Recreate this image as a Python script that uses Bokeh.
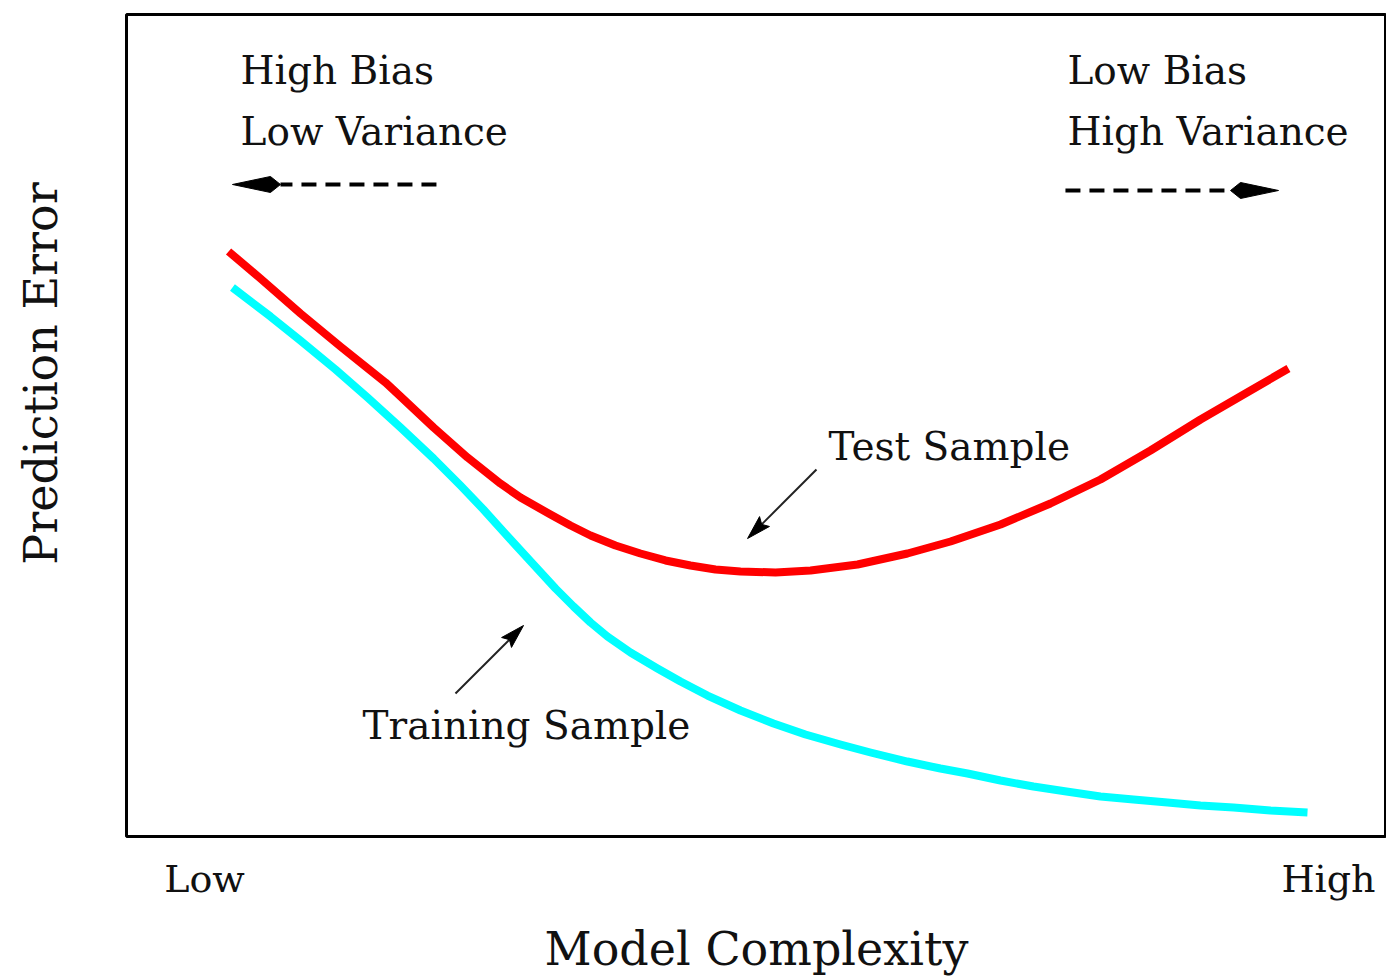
import numpy as np
from bokeh.plotting import figure
from bokeh.models import FixedTicker, CustomJSTickFormatter, Range1d
from bokeh.core.properties import value
from bokeh.embed import file_html
from bokeh.resources import INLINE

# ---------------- data (arbitrary units 0..100) -------------
test_x = [8.10, 10.63, 13.81, 16.98, 19.37, 20.56, 21.75, 24.37, 27.06, 29.68, 31.27,
          33.65, 35.24, 36.83, 38.81, 40.79, 42.78, 44.76, 46.75, 48.73, 51.51, 54.29,
          58.02, 61.98, 65.40, 69.37, 73.33, 77.30, 81.27, 85.24, 89.21, 92.22]
test_err = [71.17, 67.88, 63.63, 59.61, 56.69, 55.23, 53.53, 49.76, 46.11, 42.94, 41.24,
            39.17, 37.83, 36.62, 35.40, 34.43, 33.58, 32.97, 32.48, 32.24, 32.12, 32.36,
            33.09, 34.43, 35.89, 37.96, 40.51, 43.43, 46.96, 50.73, 54.26, 56.93]

train_x = [8.41, 11.43, 13.81, 16.59, 19.13, 21.75, 24.37, 26.51, 28.33, 30.48, 32.30,
           34.05, 35.48, 36.83, 38.17, 40.00, 42.14, 43.97, 46.11, 48.73, 51.35, 53.89,
           56.67, 59.05, 61.98, 64.60, 66.75, 69.37, 71.98, 74.60, 77.30, 79.92, 82.62,
           85.24, 87.86, 90.79, 93.73]
train_err = [66.79, 63.26, 60.34, 56.81, 53.41, 49.76, 45.99, 42.70, 39.78, 36.13, 33.09,
             30.17, 27.98, 26.03, 24.33, 22.38, 20.44, 18.86, 17.15, 15.33, 13.75, 12.41,
             11.19, 10.22, 9.12, 8.27, 7.66, 6.81, 6.08, 5.47, 4.87, 4.50, 4.14, 3.77,
             3.53, 3.16, 2.92]

x_tick_pos = [6.19, 95.40]
x_tick_labels = ["Low", "High"]
y_tick_pos = [56.33]
y_tick_labels = ["Prediction Error"]
x_axis_title = "Model Complexity"

note_text = ["High Bias", "Low Variance", "Low Bias", "High Variance", "Test Sample", "Training Sample"]
note_x = [9.05, 9.05, 74.68, 74.68, 55.71, 18.73]
note_y = [91.61, 84.18, 91.61, 84.18, 45.86, 11.92]

# dashed direction arrows (tail -> tip)
dash_tail_x = [24.60, 74.52]
dash_tail_y = [79.32, 78.59]
dash_tip_x = [8.41, 91.43]
dash_tip_y = [79.32, 78.59]

# pointer arrows (tail -> tip)
ptr_tail_x = [54.76, 26.11]
ptr_tail_y = [44.65, 17.40]
ptr_tip_x = [49.29, 31.51]
ptr_tip_y = [36.25, 25.67]

# ---------------- figure ----------------
FRAME_W, FRAME_H = 1260, 822
XR, YR = (0, 100), (0, 100)
kx = FRAME_W / (XR[1] - XR[0])
ky = FRAME_H / (YR[1] - YR[0])

FONT = "DejaVu Serif"

p = figure(frame_width=FRAME_W, frame_height=FRAME_H,
           min_border_left=126, min_border_right=0, min_border_top=14, min_border_bottom=138,
           x_range=Range1d(*XR), y_range=Range1d(*YR),
           output_backend="svg", toolbar_location=None, tools="")
p.background_fill_color = "white"
p.border_fill_color = "white"
p.outline_line_color = "black"
p.outline_line_width = 3
p.grid.visible = False

# axes
xa = p.xaxis[0]
xa.ticker = FixedTicker(ticks=x_tick_pos)
xa.formatter = CustomJSTickFormatter(args=dict(labels=x_tick_labels), code="return labels[index];")
xa.major_tick_line_color = None
xa.minor_tick_line_color = None
xa.axis_line_color = None
xa.major_label_text_font = FONT
xa.major_label_text_font_size = "38px"
xa.major_label_text_color = "#111111"
xa.major_label_standoff = 14
xa.axis_label = x_axis_title
xa.axis_label_text_font = FONT
xa.axis_label_text_font_size = "46px"
xa.axis_label_text_font_style = "normal"
xa.axis_label_text_color = "#111111"
xa.axis_label_standoff = 18

ya = p.yaxis[0]
ya.ticker = FixedTicker(ticks=y_tick_pos)
ya.formatter = CustomJSTickFormatter(args=dict(labels=y_tick_labels), code="return labels[index];")
ya.major_tick_line_color = None
ya.minor_tick_line_color = None
ya.axis_line_color = None
ya.major_label_orientation = "vertical"
ya.major_label_text_font = FONT
ya.major_label_text_font_size = "46px"
ya.major_label_text_color = "#111111"
ya.major_label_standoff = 52

# curves
p.line(test_x, test_err, line_color="#ff0000", line_width=8, line_join="round")
p.line(train_x, train_err, line_color="#00ffff", line_width=8, line_join="round")

# annotations
p.text(x=note_x, y=note_y, text=note_text, text_font=value(FONT), text_font_size="39px",
       text_color="#111111", text_align="left", text_baseline="alphabetic", y_offset=-13)


def head_polygon(tail_x, tail_y, tip_x, tip_y, length, width_at, half_w, back):
    dx = (tail_x - tip_x) * kx
    dy = (tail_y - tip_y) * ky
    L = np.hypot(dx, dy)
    ux, uy = dx / L, dy / L
    nx, ny = -uy, ux
    pts = [(0, 0), (ux * width_at + nx * half_w, uy * width_at + ny * half_w),
           (ux * back, uy * back),
           (ux * width_at - nx * half_w, uy * width_at - ny * half_w)]
    xs = [tip_x + a / kx for a, b in pts]
    ys = [tip_y + b / ky for a, b in pts]
    base = (tip_x + ux * length / kx, tip_y + uy * length / ky)
    return xs, ys, base


# dashed arrows
hx, hy, bx, by = [], [], [], []
for i in range(len(dash_tail_x)):
    xs, ys, base = head_polygon(dash_tail_x[i], dash_tail_y[i], dash_tip_x[i], dash_tip_y[i],
                                48, 38, 8, 48)
    hx.append(xs); hy.append(ys); bx.append(base[0]); by.append(base[1])
p.segment(x0=dash_tail_x, y0=dash_tail_y, x1=bx, y1=by, line_color="black",
          line_width=4, line_dash="15 9")
p.patches(hx, hy, fill_color="black", line_color="black", line_width=1)

# pointer arrows
hx, hy, bx, by = [], [], [], []
for i in range(len(ptr_tail_x)):
    xs, ys, base = head_polygon(ptr_tail_x[i], ptr_tail_y[i], ptr_tip_x[i], ptr_tip_y[i],
                                20, 24, 7, 20)
    hx.append(xs); hy.append(ys); bx.append(base[0]); by.append(base[1])
p.segment(x0=ptr_tail_x, y0=ptr_tail_y, x1=bx, y1=by, line_color="#222222", line_width=2)
p.patches(hx, hy, fill_color="black", line_color="black", line_width=1)

open("out.html", "w").write(file_html(p, INLINE))
